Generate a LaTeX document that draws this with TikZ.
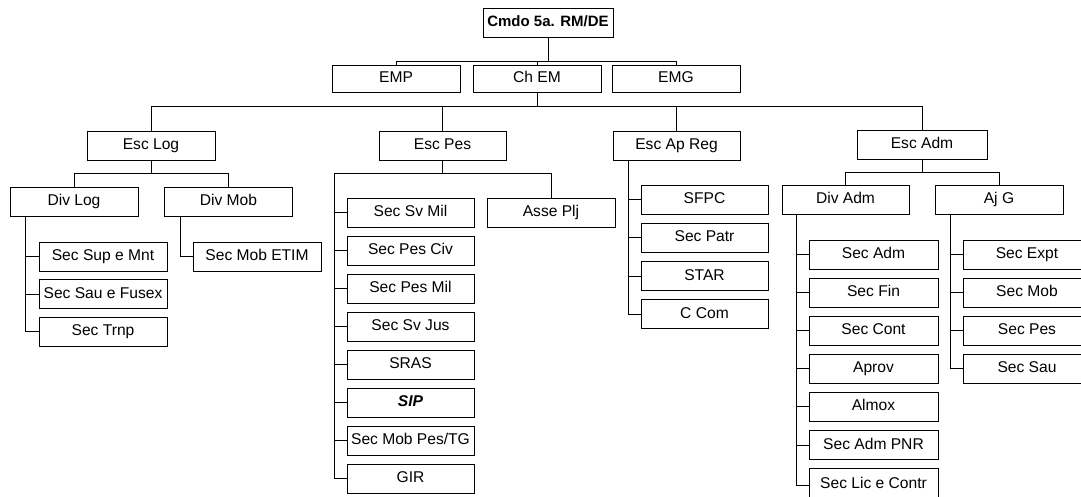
\documentclass[tikz,border=0pt]{standalone}
\usepackage{fontspec}
\setmainfont{Liberation Sans}
\begin{document}
\begin{tikzpicture}[x=1pt,y=-1pt,
  box/.style={draw=black,line width=0.9pt,minimum width=128pt,minimum height=29pt,inner sep=0pt,
    text height=11.2pt,text depth=3.2pt,
    font=\fontsize{15.6}{18}\selectfont,fill=white},
  conn/.style={draw=black,line width=0.9pt}]
\useasboundingbox (0,0) rectangle (1081,497);
\clip (0,0) rectangle (1081,497);
% level 0/1
\node[box,minimum width=130pt,font=\fontsize{15}{18}\selectfont\bfseries] (cmdo) at (548,22.5) {Cmdo 5a. RM/DE};
\node[box,minimum height=27pt] (emp) at (396,78.5) {EMP};
\node[box,minimum height=27pt] (chem) at (537,78.5) {Ch EM};
\node[box,minimum height=27pt] (emg) at (676,78.5) {EMG};
\coordinate (b1) at (0,61);
\draw[conn] (cmdo.south) -- (cmdo.south |- b1);
\draw[conn] (emp.north) |- (emg.north |- b1) -- (emg.north);
\draw[conn] (chem.north) -- (chem.north |- b1);
% level 2
\node[box] (esclog) at (151,145.5) {Esc Log};
\node[box,minimum width=127pt] (escpes) at (442.5,145.5) {Esc Pes};
\node[box,minimum width=127pt] (escap) at (676.5,145.5) {Esc Ap Reg};
\node[box,minimum width=130pt] (escadm) at (922,145) {Esc Adm};
\coordinate (b2) at (0,106);
\draw[conn] (chem.south) -- (chem.south |- b2);
\draw[conn] (esclog.north) |- (escadm.north |- b2) -- (escadm.north);
\draw[conn] (escpes.north) -- (escpes.north |- b2);
\draw[conn] (escap.north) -- (escap.north |- b2);
% Esc Log subtree
\node[box] (divlog) at (74,201.5) {Div Log};
\node[box] (divmob) at (228.5,201.5) {Div Mob};
\coordinate (b3) at (0,173);
\draw[conn] (esclog.south) -- (esclog.south |- b3);
\draw[conn] (divlog.north) |- (divmob.north |- b3) -- (divmob.north);
\node[box] (supmnt) at (103,256.5) {Sec Sup e Mnt};
\node[box] (saufus) at (103,294) {Sec Sau e Fusex};
\node[box] (trnp) at (103,331.5) {Sec Trnp};
\coordinate (sp1) at ([xshift=16pt]divlog.south west);
\draw[conn] (sp1) |- (trnp.west);
\draw[conn] (supmnt.west) -- (supmnt.west -| sp1);
\draw[conn] (saufus.west) -- (saufus.west -| sp1);
\node[box] (mobetim) at (257,256.5) {Sec Mob ETIM};
\coordinate (sp2) at ([xshift=16pt]divmob.south west);
\draw[conn] (sp2) |- (mobetim.west);
% Esc Pes subtree
\node[box] (asse) at (551,212.5) {Asse Plj};
\coordinate (sp3) at (334,173);
\draw[conn] (escpes.south) -- (escpes.south |- sp3);
\node[box,minimum width=127pt] (svmil) at (410.5,212.5) {Sec Sv Mil};
\node[box,minimum width=127pt] (pesciv) at (410.5,250.5) {Sec Pes Civ};
\node[box,minimum width=127pt] (pesmil) at (410.5,288.5) {Sec Pes Mil};
\node[box,minimum width=127pt] (svjus) at (410.5,326.5) {Sec Sv Jus};
\node[box,minimum width=127pt] (sras) at (410.5,364.5) {SRAS};
\node[box,minimum width=127pt] (sip) at (410.5,402.5) {\textbf{\textit{SIP}}};
\node[box,minimum width=127pt] (mobpes) at (410.5,440.5) {Sec Mob Pes/TG};
\node[box,minimum width=127pt] (gir) at (410.5,478.5) {GIR};
\draw[conn] (asse.north) |- (sp3) |- (gir.west);
\foreach \n in {svmil,pesciv,pesmil,svjus,sras,sip,mobpes}
  \draw[conn] (\n.west) -- (\n.west -| sp3);
% Esc Ap Reg subtree
\node[box,minimum width=127pt] (sfpc) at (704.5,199.5) {SFPC};
\node[box,minimum width=127pt] (patr) at (704.5,237.8) {Sec Patr};
\node[box,minimum width=127pt] (star) at (704.5,276.1) {STAR};
\node[box,minimum width=127pt] (ccom) at (704.5,314.4) {C Com};
\coordinate (sp4) at ([xshift=16pt]escap.south west);
\draw[conn] (sp4) |- (ccom.west);
\foreach \n in {sfpc,patr,star}
  \draw[conn] (\n.west) -- (\n.west -| sp4);
% Esc Adm subtree
\node[box,minimum width=127pt] (divadm) at (845.5,199.5) {Div Adm};
\node[box] (ajg) at (999,199.5) {Aj G};
\coordinate (b4) at (0,172);
\draw[conn] (escadm.south) -- (escadm.south |- b4);
\draw[conn] (divadm.north) |- (ajg.north |- b4) -- (ajg.north);
\node[box,minimum width=129pt] (secadm) at (873.5,254.5) {Sec Adm};
\node[box,minimum width=129pt] (secfin) at (873.5,292.6) {Sec Fin};
\node[box,minimum width=129pt] (seccont) at (873.5,330.7) {Sec Cont};
\node[box,minimum width=129pt] (aprov) at (873.5,368.8) {Aprov};
\node[box,minimum width=129pt] (almox) at (873.5,406.9) {Almox};
\node[box,minimum width=129pt] (pnr) at (873.5,445) {Sec Adm PNR};
\node[box,minimum width=129pt,minimum height=31pt] (lic) at (873.5,484.1) {Sec Lic e Contr};
\coordinate (sp5) at ([xshift=15pt]divadm.south west);
\draw[conn] (sp5) |- ([yshift=-1pt]lic.west);
\foreach \n in {secadm,secfin,seccont,aprov,almox,pnr}
  \draw[conn] (\n.west) -- (\n.west -| sp5);
\node[box] (expt) at (1027,254.5) {Sec Expt};
\node[box] (mob) at (1027,292.6) {Sec Mob};
\node[box] (pes) at (1027,330.7) {Sec Pes};
\node[box] (sau) at (1027,368.8) {Sec Sau};
\coordinate (sp6) at ([xshift=16pt]ajg.south west);
\draw[conn] (sp6) |- (sau.west);
\foreach \n in {expt,mob,pes}
  \draw[conn] (\n.west) -- (\n.west -| sp6);
\end{tikzpicture}
\end{document}
